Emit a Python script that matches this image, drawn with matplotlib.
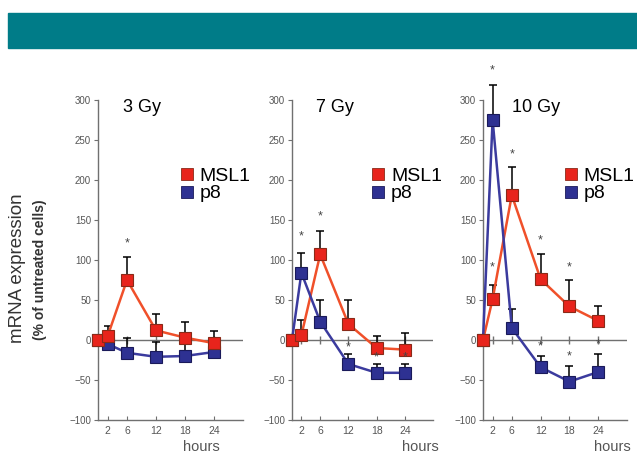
import matplotlib
matplotlib.use("Agg")
import matplotlib.pyplot as plt
from matplotlib.lines import Line2D
import numpy as np

plt.rcParams['font.family'] = ['Liberation Sans', 'DejaVu Sans']

hours = [0, 2, 6, 12, 18, 24]
xticks = [2, 6, 12, 18, 24]
yticks = [-100, -50, 0, 50, 100, 150, 200, 250, 300]
titles = ["3 Gy", "7 Gy", "10 Gy"]

msl1 = [[0, 5, 75, 12, 3, -4],
        [0, 6, 107, 20, -10, -12],
        [0, 51, 181, 76, 42, 24]]
msl1_err = [[0, 12, 29, 21, 20, 15],
            [0, 19, 29, 30, 15, 21],
            [0, 18, 35, 31, 33, 19]]
p8 = [[0, -5, -16, -21, -20, -15],
      [0, 84, 23, -30, -41, -41],
      [0, 275, 15, -34, -52, -40]]
p8_err = [[0, 5, 19, 18, 15, 18],
          [0, 25, 27, 13, 11, 11],
          [0, 44, 24, 14, 20, 22]]

# significance asterisks (x, y) per panel
stars = [[(6, 121)],
         [(2, 129), (6, 155), (12, -9), (18, -22), (24, -22)],
         [(2, 337), (6, 232), (2, 91), (12, 125), (18, 91), (12, -8), (18, -21), (24, -6)]]

# layout (pixels)
W, H = 637, 476
lefts = [98, 292, 483]
widths = [145, 141, 144]
top_px, bot_px = 100, 420
hours_x = [0.71, 0.91, 0.90]

red_line = '#F0502A'
red_fill = '#E8241C'
red_edge = '#8A2A18'
blue_line = '#3B3B9E'
blue_fill = '#2E3192'
blue_edge = '#1A1A5A'
axis_col = '#707070'
tick_col = '#555555'

fig = plt.figure(figsize=(W / 100, H / 100), dpi=100)

# teal header band
fig.patches.append(plt.Rectangle((8 / W, 1 - 48 / H), 1 - 8 / W, 35 / H,
                                 transform=fig.transFigure, color='#007C88', zorder=0))

for i in range(3):
    ax = fig.add_axes([lefts[i] / W, 1 - bot_px / H, widths[i] / W, (bot_px - top_px) / H])
    ax.set_xlim(0, 30)
    ax.set_ylim(-100, 300)
    for s in ['top', 'right']:
        ax.spines[s].set_visible(False)
    for s in ['left', 'bottom']:
        ax.spines[s].set_color(axis_col)
        ax.spines[s].set_linewidth(1.0)
    ax.set_yticks(yticks)
    ax.set_xticks(xticks)
    ax.tick_params(axis='y', direction='out', length=3, color=axis_col,
                   labelsize=7, labelcolor=tick_col, pad=2)
    ax.tick_params(axis='x', direction='in', length=3, color=axis_col,
                   labelsize=7.5, labelcolor=tick_col, pad=4)
    ax.patch.set_alpha(0)

    # zero line with tick marks
    ax.axhline(0, color=axis_col, lw=1.0, zorder=1)
    ax.plot(xticks, [0] * len(xticks), linestyle='none', marker='|',
            markersize=6, color=axis_col, mew=1.0, zorder=1)

    # error bars (upward only)
    for vals, errs in ((msl1[i], msl1_err[i]), (p8[i], p8_err[i])):
        eb = ax.errorbar(hours[1:], vals[1:], yerr=[np.zeros(5), errs[1:]],
                         fmt='none', ecolor='black', elinewidth=1.1, capsize=3,
                         capthick=1.1, zorder=2)
        for art in eb.lines[1] + eb.lines[2]:
            art.set_clip_on(False)

    ax.plot(hours, msl1[i], color=red_line, lw=1.8, zorder=3, clip_on=False)
    ax.plot(hours, p8[i], color=blue_line, lw=1.8, zorder=4, clip_on=False)
    ax.plot(hours, p8[i], linestyle='none', marker='s', markersize=8.5,
            mfc=blue_fill, mec=blue_edge, mew=0.8, zorder=5, clip_on=False)
    ax.plot(hours, msl1[i], linestyle='none', marker='s', markersize=8.5,
            mfc=red_fill, mec=red_edge, mew=0.8, zorder=6, clip_on=False)

    for (sx, sy) in stars[i]:
        ax.text(sx, sy, '*', ha='center', va='center', fontsize=9, color='#444444',
                clip_on=False, zorder=7)

    ax.text(0.17 if i < 2 else 0.2, 0.975, titles[i], transform=ax.transAxes,
            fontsize=13, ha='left', va='center', color='black')

    handles = [Line2D([], [], linestyle='none', marker='s', markersize=8.5,
                      mfc=red_fill, mec=red_edge, mew=0.6),
               Line2D([], [], linestyle='none', marker='s', markersize=8.5,
                      mfc=blue_fill, mec=blue_edge, mew=0.6)]
    ax.legend(handles, ['MSL1', 'p8'], loc='upper left',
              bbox_to_anchor=(0.565, 0.79), frameon=False, fontsize=14,
              handlelength=0.7, handletextpad=0.3, labelspacing=0.0,
              borderaxespad=0, borderpad=0)

    ax.set_xlabel('hours', fontsize=10.5, color=tick_col)
    ax.xaxis.set_label_coords(hours_x[i], -0.062)

fig.text(18 / W, 1 - 268 / H, 'mRNA expression', rotation=90, ha='center', va='center',
         fontsize=13.5, color='#333333')
fig.text(40 / W, 1 - 270 / H, '(% of untreated cells)', rotation=90, ha='center', va='center',
         fontsize=10, fontweight='bold', color='#333333')

fig.savefig('out.png', dpi=100)
